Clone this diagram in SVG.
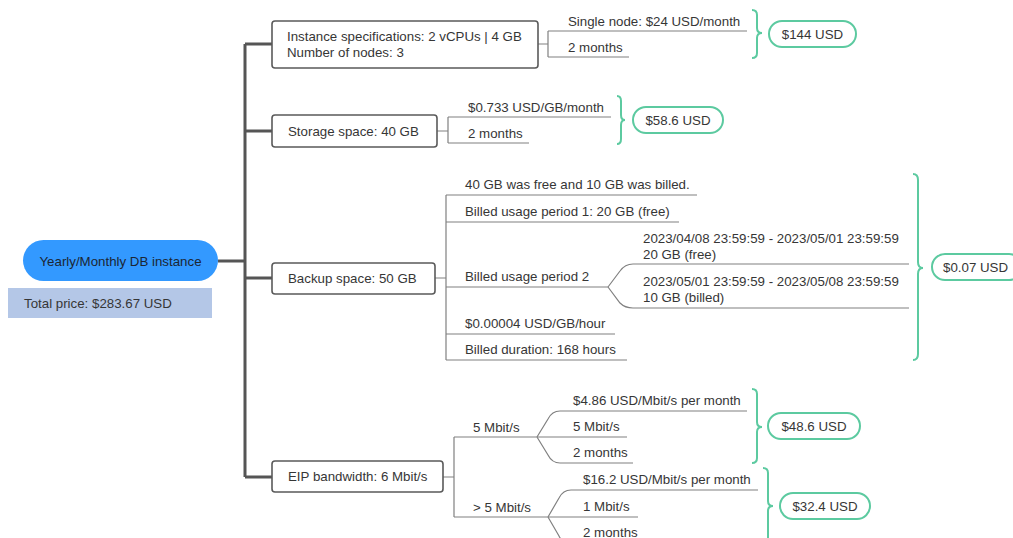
<svg xmlns="http://www.w3.org/2000/svg" width="1013" height="538" viewBox="0 0 1013 538">
<style>
text{font-family:"Liberation Sans",Arial,sans-serif;font-size:13.3px;fill:#363636}
.trunk{stroke:#555;stroke-width:3;fill:none}
.ln{stroke:#808080;stroke-width:1.2;fill:none}
.box{fill:#fff;stroke:#5a5a5a;stroke-width:1.6}
.brace{stroke:#5ccaa0;stroke-width:2;fill:none}
.pill{fill:#fff;stroke:#5ccaa0;stroke-width:2}
.c{text-anchor:middle}
</style>
<rect width="1013" height="538" fill="#fff"/>
<g id="connectors">
<path class="trunk" d="M218,261H245M245,44V477M245,44H272M245,131H272M245,278H272M245,477H272"/>
<path class="ln" d="M538,44H548M548,31V57M548,31H747M548,57H629"/>
<path class="ln" d="M437,131H448M448,117V143M448,117H611M448,143H529"/>
<path class="ln" d="M435,278H446M446,195V360M446,195H697M446,222H679M446,287H608M446,334H615M446,360H627"/>
<path class="ln" d="M608,287L620,271Q625,264 633,264H909M608,287L620,303Q625,308 633,308H909"/>
<path class="ln" d="M443,477H454M454,437V517M454,437H627M454,517H638"/>
<path class="ln" d="M537,437L548,419Q552,411 560,411H747M537,437L548,455Q552,463 560,463H633"/>
<path class="ln" d="M548,517L559,498Q563,490 571,490H758M548,517L559,536Q563,544 571,544H645"/>
<path class="brace" d="M752,10Q757,10 757,15V28Q757,33 762,33Q757,33 757,38V53Q757,58 752,58"/>
<path class="brace" d="M617,96Q621,96 621,101V115Q621,120 625,120Q621,120 621,125V139Q621,144 617,144"/>
<path class="brace" d="M913,174Q918,174 918,180V262Q918,268 923,268Q918,268 918,274V354Q918,360 913,360"/>
<path class="brace" d="M752,389Q757,389 757,394V422Q757,427 762,427Q757,427 757,432V458Q757,463 752,463"/>
<path class="brace" d="M763,468Q768,468 768,473V501Q768,506 773,506Q768,506 768,511V539Q768,544 763,544"/>
</g>
<g id="root">
<rect x="23" y="240" width="195" height="41" rx="20.5" fill="#3399ff"/>
<text x="120.5" y="266" class="c" style="fill:#1c2633">Yearly/Monthly DB instance</text>
</g>
<g id="total">
<rect x="8" y="288" width="204" height="30" fill="#b4c7e7"/>
<text x="24" y="308">Total price: $283.67 USD</text>
</g>
<g id="instance">
<rect class="box" x="272" y="21" width="266" height="47" rx="3"/>
<text x="287" y="41">Instance specifications: 2 vCPUs | 4 GB</text>
<text x="287" y="57">Number of nodes: 3</text>
<text x="568" y="26">Single node: $24 USD/month</text>
<text x="568" y="52">2 months</text>
</g>
<g id="instance-price">
<rect class="pill" x="769" y="21" width="87" height="26" rx="13"/>
<text x="812.5" y="38.5" class="c">$144 USD</text>
</g>
<g id="storage">
<rect class="box" x="272" y="115" width="165" height="32" rx="3"/>
<text x="288" y="136">Storage space: 40 GB</text>
<text x="468" y="112">$0.733 USD/GB/month</text>
<text x="468" y="138">2 months</text>
</g>
<g id="storage-price">
<rect class="pill" x="633" y="107" width="90" height="26" rx="13"/>
<text x="678" y="124.5" class="c">$58.6 USD</text>
</g>
<g id="backup">
<rect class="box" x="272" y="263" width="163" height="31" rx="3"/>
<text x="288" y="283">Backup space: 50 GB</text>
<text x="465" y="189">40 GB was free and 10 GB was billed.</text>
<text x="465" y="216">Billed usage period 1: 20 GB (free)</text>
<text x="465" y="281">Billed usage period 2</text>
<text x="643" y="243">2023/04/08 23:59:59 - 2023/05/01 23:59:59</text>
<text x="643" y="259">20 GB (free)</text>
<text x="643" y="286">2023/05/01 23:59:59 - 2023/05/08 23:59:59</text>
<text x="643" y="302">10 GB (billed)</text>
<text x="465" y="328">$0.00004 USD/GB/hour</text>
<text x="465" y="354">Billed duration: 168 hours</text>
</g>
<g id="backup-price">
<rect class="pill" x="932" y="254" width="90" height="26" rx="13"/>
<text x="943" y="271.5">$0.07 USD</text>
</g>
<g id="eip">
<rect class="box" x="272" y="461" width="171" height="31" rx="3"/>
<text x="288" y="481">EIP bandwidth: 6 Mbit/s</text>
<text x="473" y="432">5 Mbit/s</text>
<text x="473" y="512">&gt; 5 Mbit/s</text>
<text x="573" y="405">$4.86 USD/Mbit/s per month</text>
<text x="573" y="431">5 Mbit/s</text>
<text x="573" y="457">2 months</text>
<text x="583" y="484">$16.2 USD/Mbit/s per month</text>
<text x="583" y="511">1 Mbit/s</text>
<text x="583" y="537">2 months</text>
</g>
<g id="eip-price-1">
<rect class="pill" x="768" y="413" width="92" height="26" rx="13"/>
<text x="814" y="430.5" class="c">$48.6 USD</text>
</g>
<g id="eip-price-2">
<rect class="pill" x="780" y="493" width="90" height="26" rx="13"/>
<text x="825" y="510.5" class="c">$32.4 USD</text>
</g>
</svg>
